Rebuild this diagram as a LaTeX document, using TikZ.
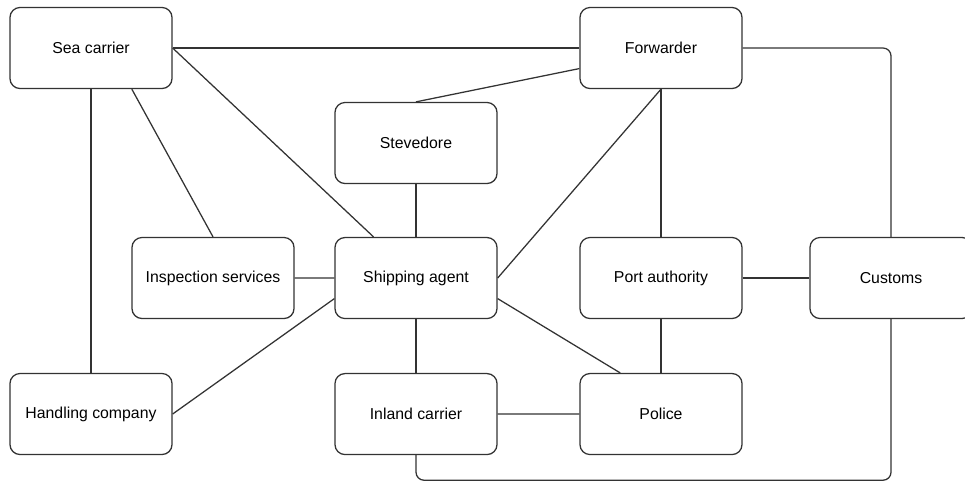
\documentclass[tikz,border=0pt]{standalone}
\usepackage{fontspec}
\setmainfont{Liberation Sans}
\usetikzlibrary{positioning,calc}

\definecolor{edgegray}{HTML}{333333}

\begin{document}
\begin{tikzpicture}[x=0.025cm,y=-0.025cm,node distance=3.4cm,on grid,
  every node/.style={font=\fontsize{11.25}{13}\selectfont},
  actor/.style={draw=edgegray,line width=0.9pt,rounded corners=0.25cm,fill=white,
    minimum width=4.05cm,minimum height=2.025cm,inner sep=0pt},
  link/.style={draw=edgegray,line width=0.9pt}]
\useasboundingbox (0,0) rectangle (965,482);
\node[actor] (sea) at (91,48) {Sea carrier};
\node[actor] (fwd) at (661,48) {Forwarder};
\node[actor] (stev) at (416,143) {Stevedore};
\node[actor,below=3.375cm of stev] (agent) {Shipping agent};
\node[actor,below=of agent] (inland) {Inland carrier};
\node[actor] (insp) at (213,278) {Inspection services};
\node[actor] (port) at (661,278) {Port authority};
\node[actor,below=of port] (police) {Police};
\node[actor] (cust) at (891,278) {Customs};
\node[actor] (handl) at (91,414) {Handling company};
\draw[link] (sea) -- (fwd);
\draw[link,rounded corners=0.2cm] (fwd.east) -| (cust.north);
\draw[link] (sea.east) -- ($(agent.north west)!0.24!(agent.north east)$);
\draw[link] ($(sea.south west)!0.75!(sea.south east)$) -- (insp.north);
\draw[link] (sea.south) -- (handl.north);
\draw[link] ($(fwd.north west)!0.75!(fwd.south west)$) -- (stev.north);
\draw[link] (fwd.south) -- (agent.east);
\draw[link] (fwd.south) -- (port.north);
\draw[link] (stev) -- (agent);
\draw[link] (insp) -- (agent);
\draw[link] ($(agent.north west)!0.75!(agent.south west)$) -- (handl.east);
\draw[link] ($(agent.north east)!0.75!(agent.south east)$) -- ($(police.north west)!0.25!(police.north east)$);
\draw[link] (agent) -- (inland);
\draw[link] (port) -- (cust);
\draw[link] (port) -- (police);
\draw[link] (inland) -- (police);
\draw[link,rounded corners=0.2cm] (inland.south) -- ++(0,25) -| (cust.south);
\end{tikzpicture}
\end{document}
